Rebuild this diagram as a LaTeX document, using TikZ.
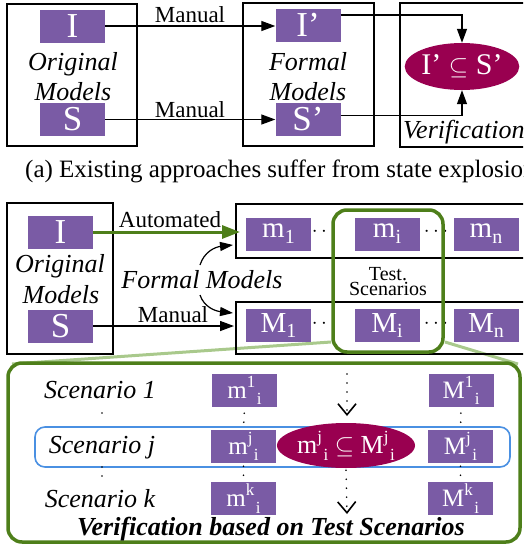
\documentclass[tikz,border=0pt]{standalone}
\usepackage{fontspec}
\setmainfont{Liberation Serif}
\usetikzlibrary{arrows.meta,shapes.geometric}
\definecolor{pur}{HTML}{7A5BA5}
\definecolor{mar}{HTML}{990050}
\definecolor{dg}{HTML}{4E7F1A}
\definecolor{lg}{HTML}{A9C98C}
\definecolor{bl}{HTML}{4A90E2}
\newcommand{\fsz}[1]{\fontsize{#1}{#1}\selectfont}
\newcommand{\lsub}[1]{\raisebox{-0.2em}{\fsz{20}#1}}
\newcommand{\ssup}[1]{\raisebox{0.45em}{\fsz{17}#1}}
\newcommand{\ssub}[1]{\kern1.5pt\raisebox{-0.25em}{\fsz{17}#1}}
\begin{document}
\begin{tikzpicture}[x=1pt,y=-1pt,
  pA/.style={fill=pur,text=white,minimum width=65pt,minimum height=33pt,inner sep=0pt,font=\fsz{35}},
  pB/.style={fill=pur,text=white,minimum width=65pt,minimum height=33pt,inner sep=0pt,font=\fsz{29}},
  pC/.style={fill=pur,text=white,minimum width=65pt,minimum height=33pt,inner sep=0pt,font=\fsz{25}},
  frm/.style={draw=black,line width=1.3pt},
  itl/.style={font=\fsz{26}\itshape,inner sep=0pt,anchor=base},
  lbl/.style={font=\fsz{23},inner sep=0pt,anchor=base},
  arr/.style={line width=1.3pt,-{Triangle[length=14pt,width=10pt]}},
  garr/.style={draw=dg,line width=3pt,-{Triangle[length=18pt,width=13pt]}},
  ell/.style={ellipse,fill=mar,text=white,inner sep=0pt},
  grbox/.style={draw=dg,line width=3.5pt,rounded corners=14pt,inner sep=0pt},
  zoomln/.style={draw=lg,line width=3pt},
  dotl/.style={line width=1.8pt,dash pattern=on 0pt off 9pt,line cap=round},
  vtip/.style={-{Straight Barb[length=11pt,width=18pt,line width=1.6pt]}},
]
\clip (0,0) rectangle (523,544);
\useasboundingbox (0,0) rectangle (523,544);

% ---------- part (a) ----------
\draw[frm] (7,4) rectangle (137,146);
\draw[frm] (243,3) rectangle (374,146);
\draw[frm] (400,3) rectangle (545,147);
\node[pA] (I) at (72.5,26) {I};
\node[pA] (S) at (72.5,119.5) {S};
\node[itl] (o1) at (73,70) {Original};
\node[itl] (o2) at (73,100) {Models};
\node[pA] (Ip) at (308,25) {I’};
\node[pA] (Sp) at (308,119.5) {S’};
\node[itl] (f1) at (308,70) {Formal};
\node[itl] (f2) at (308,100) {Models};
\node[ell,minimum width=100pt,minimum height=47pt,font=\fsz{30}] (v) at (462,66.5) {I’ $\subseteq$ S’};
\node[itl,anchor=base west] (vt) at (403,138) {Verification};
\draw[arr] (I.east) -- (I.east -| Ip.west);
\node[lbl] (man1) at (190,22) {Manual};
\draw[arr] (S.east) -- (S.east -| Sp.west);
\node[lbl] (man2) at (190,117) {Manual};
\draw[arr] ([yshift=10pt]Ip.east) -| (v.north);
\draw[arr] ([yshift=4pt]Sp.east) -| (v.south);
\node[font=\fsz{25},anchor=base west,inner sep=0pt] (cap) at (25,177) {(a) Existing approaches suffer from state explosion};

% ---------- part (b) ----------
\draw[zoomln] (331,342) -- (12,364);
\draw[zoomln] (445,342) -- (518,364);
\node[grbox,minimum width=512pt,minimum height=179pt] (big) at (264,452.5) {};

\draw[frm] (7,203) rectangle (113,354);
\draw[frm] (236,204) rectangle (545,258);
\draw[frm] (236,302) rectangle (545,354);
\node[pA] (I2) at (60.5,232) {I};
\node[pA] (S2) at (60.5,326) {S};
\node[itl] (o3) at (60,272) {Original};
\node[itl] (o4) at (61,303) {Models};

\node[pB] (m1) at (278.5,234) {m\lsub{1}};
\node[pB] (mi) at (387,234) {m\lsub{i}};
\node[pB] (mn) at (486,234) {m\lsub{n}};
\node[pB] (M1) at (278.5,325.5) {M\lsub{1}};
\node[pB] (Mi) at (387,325.5) {M\lsub{i}};
\node[pB] (Mn) at (486,325.5) {M\lsub{n}};
\node[font=\fsz{20},inner sep=0pt] (d1) at (324,232) {$\cdots$};
\node[font=\fsz{20},inner sep=0pt] (d2) at (436,232) {$\cdots$};
\node[font=\fsz{20},inner sep=0pt] (d3) at (324,324) {$\cdots$};
\node[font=\fsz{20},inner sep=0pt] (d4) at (436,324) {$\cdots$};

\coordinate (tA) at (240,232);
\coordinate (tM) at (234,326);
\draw[garr] (I2.east) -- (tA);
\node[lbl] (aut) at (170,227) {Automated};
\draw[arr] (S2.east |- tM) -- (tM);
\node[lbl] (man3) at (173,322) {Manual};
\node[itl] (fm) at (202,288) {Formal Models};
\coordinate (c1s) at (200,265);
\coordinate (c1e) at (233,245);
\coordinate (c2s) at (200,295);
\coordinate (c2e) at (233,313);
\draw[arr,line width=1.2pt,-{Triangle[length=13pt,width=9pt]}] (c1s) .. controls (204,252) and (215,247) .. (c1e);
\draw[arr,line width=1.2pt,-{Triangle[length=13pt,width=9pt]}] (c2s) .. controls (204,307) and (215,311) .. (c2e);

\node[grbox,minimum width=110pt,minimum height=142pt] (ts) at (388,281) {};
\node[font=\fsz{20},inner sep=0pt,anchor=base] (ts1) at (388,280) {Test.};
\node[font=\fsz{20},inner sep=0pt,anchor=base] (ts2) at (388,295) {Scenarios};

% scenarios
\node[draw=bl,line width=1.6pt,rounded corners=10pt,minimum width=475pt,minimum height=40pt] (row) at (272.5,447) {};
\node[itl] (s1) at (100,398) {Scenario 1};
\node[itl] (sj) at (102,453) {Scenario j};
\node[itl] (sk) at (100,507) {Scenario k};
\node[pC] (a1) at (244.5,390.5) {m\ssup{1}\ssub{i}};
\node[pC] (aj) at (243.5,446.5) {m\ssup{j}\ssub{i}};
\node[pC] (ak) at (243.5,498.5) {m\ssup{k}\ssub{i}};
\node[pC] (b1) at (461,390.5) {M\ssup{1}\ssub{i}};
\node[pC] (bj) at (460.5,446.5) {M\ssup{j}\ssub{i}};
\node[pC] (bk) at (460.5,498.5) {M\ssup{k}\ssub{i}};
\node[ell,minimum width=116pt,minimum height=45pt,font=\fsz{26}] (e2) at (346,445.5) {m\ssup{j}\ssub{i} $\subseteq$ M\ssup{j}\ssub{i}};

\draw[dotl,dash phase=3pt] (a1.south) -- (aj.north);
\draw[dotl,dash phase=6pt] (aj.south) -- (ak.north);
\draw[dotl,dash phase=3pt] (b1.south) -- (bj.north);
\draw[dotl,dash phase=6pt] (bj.south) -- (bk.north);
\coordinate (v1a) at (102,413);
\coordinate (v1b) at (102,422);
\coordinate (v2a) at (102,467);
\coordinate (v2b) at (102,476);
\draw[dotl] (v1a) -- (v1b);
\draw[dotl] (v2a) -- (v2b);

\coordinate (ta) at (347,374);
\coordinate (tb) at (347,416);
\coordinate (tc) at (347,514);
\draw[dotl,vtip] (ta) -- (tb);
\draw[dotl,vtip] ([yshift=-2pt]e2.south) -- (tc);

\node[font=\fsz{26}\bfseries\itshape,inner sep=0pt,anchor=base] (vb) at (271,535) {Verification based on Test Scenarios};
\end{tikzpicture}
\end{document}
